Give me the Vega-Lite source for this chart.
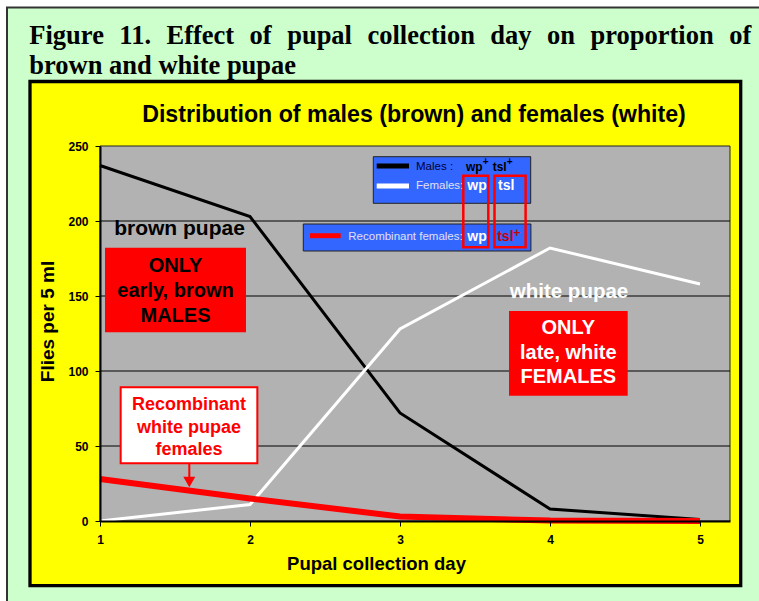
{
  "$schema": "https://vega.github.io/schema/vega-lite/v6.json",
  "width": 630,
  "height": 375,
  "autosize": "none",
  "padding": {"left": 100, "top": 146, "right": 29, "bottom": 80},
  "background": "#FFFFFF",
  "config": {"view": {"stroke": null}, "font": "Liberation Sans"},
  "layer": [
    {
      "data": {"values": [{}]},
      "mark": {"type": "rect", "fill": "#CCFFCC", "stroke": "#333333", "strokeWidth": 2},
      "encoding": {
        "x": {"datum": 0.38, "type": "quantitative", "scale": {"domain": [1, 5.2], "nice": false, "zero": false}},
        "x2": {"datum": 5.6},
        "y": {"datum": 342.33, "type": "quantitative", "scale": {"domain": [0, 250], "nice": false, "zero": false}},
        "y2": {"datum": -62.67}
      }
    },
    {
      "data": {"values": [{}]},
      "mark": {"type": "text", "text": ["Figure \u200411. \u2004Effect \u2004of \u2004pupal \u2004collection \u2004day \u2004on \u2004proportion \u2004of", "brown and white pupae"], "font": "Liberation Serif", "fontWeight": "bold", "fontSize": 26.5, "lineHeight": 30, "color": "#000000", "align": "left", "baseline": "top"},
      "encoding": {"x": {"datum": 0.5287}, "y": {"datum": 331.7}}
    },
    {
      "data": {"values": [{}]},
      "mark": {"type": "rect", "fill": "#FFFF00", "stroke": "#000000", "strokeWidth": 3.3},
      "encoding": {"x": {"datum": 0.5333}, "x2": {"datum": 5.2713}, "y": {"datum": 293}, "y2": {"datum": -43.13}}
    },
    {
      "data": {"values": [{}]},
      "mark": {"type": "rect", "fill": "#B2B2B2", "stroke": "#222222", "strokeWidth": 1},
      "encoding": {"x": {"datum": 1}, "x2": {"datum": 5.2}, "y": {"datum": 250}, "y2": {"datum": 0}}
    },
    {
      "data": {"values": [{}]},
      "mark": {"type": "text", "text": "Distribution of males (brown) and females (white)", "font": "Liberation Sans", "fontWeight": "bold", "fontSize": 23.2, "color": "#000000", "align": "center", "baseline": "middle"},
      "encoding": {"x": {"datum": 3.0933}, "y": {"datum": 270.67}}
    },
    {
      "data": {"values": [{"g": 50}, {"g": 100}, {"g": 150}, {"g": 200}]},
      "mark": {"type": "rule", "color": "#000000", "strokeWidth": 1},
      "encoding": {"x": {"datum": 1}, "x2": {"datum": 5.2}, "y": {"field": "g", "type": "quantitative"}}
    },
    {
      "data": {"values": [
        {"day": 1, "series": "Males", "flies": 237},
        {"day": 2, "series": "Males", "flies": 203},
        {"day": 3, "series": "Males", "flies": 72},
        {"day": 4, "series": "Males", "flies": 8},
        {"day": 5, "series": "Males", "flies": 1},
        {"day": 1, "series": "Females", "flies": 0},
        {"day": 2, "series": "Females", "flies": 11},
        {"day": 3, "series": "Females", "flies": 128},
        {"day": 4, "series": "Females", "flies": 182},
        {"day": 5, "series": "Females", "flies": 158},
        {"day": 1, "series": "Recombinant females", "flies": 28},
        {"day": 2, "series": "Recombinant females", "flies": 15},
        {"day": 3, "series": "Recombinant females", "flies": 3},
        {"day": 4, "series": "Recombinant females", "flies": 0.3},
        {"day": 5, "series": "Recombinant females", "flies": 0}
      ]},
      "mark": {"type": "line", "strokeJoin": "miter"},
      "encoding": {
        "x": {
          "field": "day", "type": "quantitative",
          "scale": {"domain": [1, 5.2], "nice": false, "zero": false},
          "axis": {
            "title": "Pupal collection day", "values": [1, 2, 3, 4, 5], "format": "d",
            "grid": false, "domain": true, "domainColor": "#000000", "domainWidth": 2,
            "ticks": true, "tickColor": "#000000", "tickSize": 5, "tickWidth": 1,
            "labelFont": "Liberation Sans", "labelFontWeight": "bold", "labelFontSize": 12, "labelColor": "#000000",
            "labelPadding": 8, "labelFlush": false, "labelOverlap": false,
            "titleFont": "Liberation Sans", "titleFontSize": 18.5, "titleFontWeight": "bold", "titleColor": "#000000",
            "titleX": 276, "titleY": 42, "titleAlign": "center", "titleBaseline": "middle",
            "zindex": 1
          }
        },
        "y": {
          "field": "flies", "type": "quantitative",
          "scale": {"domain": [0, 250], "nice": false, "zero": false},
          "axis": {
            "title": "Flies per 5 ml", "values": [0, 50, 100, 150, 200, 250],
            "grid": false, "domain": true, "domainColor": "#000000", "domainWidth": 2,
            "ticks": true, "tickColor": "#000000", "tickSize": 5, "tickWidth": 1,
            "labelFont": "Liberation Sans", "labelFontWeight": "bold", "labelFontSize": 12, "labelColor": "#000000",
            "labelPadding": 7, "labelFlush": false, "labelOverlap": false,
            "titleFont": "Liberation Sans", "titleFontSize": 19, "titleFontWeight": "bold", "titleColor": "#000000",
            "titleX": -53, "titleY": 175, "titleAlign": "center", "titleBaseline": "middle", "titleAngle": -90,
            "zindex": 1
          }
        },
        "color": {"field": "series", "type": "nominal", "scale": {"domain": ["Males", "Females", "Recombinant females"], "range": ["#000000", "#FFFFFF", "#FF0000"]}, "legend": null},
        "strokeWidth": {"condition": {"test": "datum.series === 'Recombinant females'", "value": 6}, "value": 3}
      }
    },
    {
      "data": {"values": [{}]},
      "mark": {"type": "text", "text": "brown pupae", "font": "Liberation Sans", "fontWeight": "bold", "fontSize": 21, "color": "#000000", "align": "center", "baseline": "middle"},
      "encoding": {"x": {"datum": 1.53}, "y": {"datum": 194.47}}
    },
    {
      "data": {"values": [{}]},
      "mark": {"type": "rect", "fill": "#FF0000"},
      "encoding": {"x": {"datum": 1.0333}, "x2": {"datum": 1.9733}, "y": {"datum": 182.2}, "y2": {"datum": 125.8}}
    },
    {
      "data": {"values": [{}]},
      "mark": {"type": "text", "text": ["ONLY", "early, brown", "MALES"], "font": "Liberation Sans", "fontWeight": "bold", "fontSize": 20, "lineHeight": 25, "color": "#000000", "align": "center", "baseline": "middle"},
      "encoding": {"x": {"datum": 1.5033}, "y": {"datum": 170.2}}
    },
    {
      "data": {"values": [{}]},
      "mark": {"type": "text", "text": "white pupae", "font": "Liberation Sans", "fontWeight": "bold", "fontSize": 20.5, "color": "#FFFFFF", "align": "center", "baseline": "middle"},
      "encoding": {"x": {"datum": 4.1267}, "y": {"datum": 152.87}}
    },
    {
      "data": {"values": [{}]},
      "mark": {"type": "rect", "fill": "#FF0000"},
      "encoding": {"x": {"datum": 3.7267}, "x2": {"datum": 4.518}, "y": {"datum": 140}, "y2": {"datum": 83.5}}
    },
    {
      "data": {"values": [{}]},
      "mark": {"type": "text", "text": ["ONLY", "late, white", "FEMALES"], "font": "Liberation Sans", "fontWeight": "bold", "fontSize": 20, "lineHeight": 24.5, "color": "#FFFFFF", "align": "center", "baseline": "middle"},
      "encoding": {"x": {"datum": 4.122}, "y": {"datum": 128.47}}
    },
    {
      "data": {"values": [{}]},
      "mark": {"type": "rect", "fill": "#FFFFFF", "stroke": "#FF0000", "strokeWidth": 2},
      "encoding": {"x": {"datum": 1.1378}, "x2": {"datum": 2.0489}, "y": {"datum": 89.13}, "y2": {"datum": 38.47}}
    },
    {
      "data": {"values": [{}]},
      "mark": {"type": "text", "text": ["Recombinant", "white pupae", "females"], "font": "Liberation Sans", "fontWeight": "bold", "fontSize": 18, "lineHeight": 22.5, "color": "#FF0000", "align": "center", "baseline": "middle"},
      "encoding": {"x": {"datum": 1.5933}, "y": {"datum": 77.33}}
    },
    {
      "data": {"values": [{}]},
      "mark": {"type": "rule", "color": "#FF0000", "strokeWidth": 2},
      "encoding": {"x": {"datum": 1.5953}, "y": {"datum": 38.47}, "y2": {"datum": 29}}
    },
    {
      "data": {"values": [{}]},
      "mark": {"type": "point", "shape": "triangle-down", "filled": true, "color": "#FF0000", "size": 144, "opacity": 1},
      "encoding": {"x": {"datum": 1.5953}, "y": {"datum": 26}}
    },
    {
      "data": {"values": [{}]},
      "mark": {"type": "rect", "fill": "#3366FF", "stroke": "#222222", "strokeWidth": 1},
      "encoding": {"x": {"datum": 2.822}, "x2": {"datum": 3.8713}, "y": {"datum": 242.87}, "y2": {"datum": 211.8}}
    },
    {
      "data": {"values": [{}]},
      "mark": {"type": "rect", "fill": "#3366FF", "stroke": "#222222", "strokeWidth": 1},
      "encoding": {"x": {"datum": 2.3553}, "x2": {"datum": 3.8727}, "y": {"datum": 198}, "y2": {"datum": 180}}
    },
    {
      "data": {"values": [{}]},
      "mark": {"type": "rule", "color": "#000000", "strokeWidth": 5},
      "encoding": {"x": {"datum": 2.8447}, "x2": {"datum": 3.06}, "y": {"datum": 236.67}}
    },
    {
      "data": {"values": [{}]},
      "mark": {"type": "rule", "color": "#FFFFFF", "strokeWidth": 5},
      "encoding": {"x": {"datum": 2.8447}, "x2": {"datum": 3.06}, "y": {"datum": 223.33}}
    },
    {
      "data": {"values": [{}]},
      "mark": {"type": "rule", "color": "#FF0000", "strokeWidth": 5},
      "encoding": {"x": {"datum": 2.4}, "x2": {"datum": 2.6047}, "y": {"datum": 190.2}}
    },
    {
      "data": {"values": [{}]},
      "mark": {"type": "text", "text": "Males :", "font": "Liberation Sans", "fontSize": 11.5, "color": "#000033", "align": "left", "baseline": "middle"},
      "encoding": {"x": {"datum": 3.1067}, "y": {"datum": 236.2}}
    },
    {
      "data": {"values": [{}]},
      "mark": {"type": "text", "text": "wp", "font": "Liberation Sans", "fontWeight": "bold", "fontSize": 12, "color": "#000000", "align": "left", "baseline": "middle"},
      "encoding": {"x": {"datum": 3.44}, "y": {"datum": 236.2}}
    },
    {
      "data": {"values": [{}]},
      "mark": {"type": "text", "text": "+", "font": "Liberation Sans", "fontWeight": "bold", "fontSize": 10, "color": "#000000", "align": "left", "baseline": "middle"},
      "encoding": {"x": {"datum": 3.5513}, "y": {"datum": 239.3}}
    },
    {
      "data": {"values": [{}]},
      "mark": {"type": "text", "text": "tsl", "font": "Liberation Sans", "fontWeight": "bold", "fontSize": 12, "color": "#000000", "align": "left", "baseline": "middle"},
      "encoding": {"x": {"datum": 3.618}, "y": {"datum": 236.2}}
    },
    {
      "data": {"values": [{}]},
      "mark": {"type": "text", "text": "+", "font": "Liberation Sans", "fontWeight": "bold", "fontSize": 10, "color": "#000000", "align": "left", "baseline": "middle"},
      "encoding": {"x": {"datum": 3.7113}, "y": {"datum": 239.3}}
    },
    {
      "data": {"values": [{}]},
      "mark": {"type": "text", "text": "Females:", "font": "Liberation Sans", "fontSize": 11.5, "color": "#E0E0F0", "align": "left", "baseline": "middle"},
      "encoding": {"x": {"datum": 3.1067}, "y": {"datum": 223.33}}
    },
    {
      "data": {"values": [{}]},
      "mark": {"type": "text", "text": "wp", "font": "Liberation Sans", "fontWeight": "bold", "fontSize": 14, "color": "#FFFFFF", "align": "left", "baseline": "middle"},
      "encoding": {"x": {"datum": 3.4487}, "y": {"datum": 223.33}}
    },
    {
      "data": {"values": [{}]},
      "mark": {"type": "text", "text": "tsl", "font": "Liberation Sans", "fontWeight": "bold", "fontSize": 14, "color": "#FFFFFF", "align": "left", "baseline": "middle"},
      "encoding": {"x": {"datum": 3.6533}, "y": {"datum": 223.33}}
    },
    {
      "data": {"values": [{}]},
      "mark": {"type": "text", "text": "Recombinant females:", "font": "Liberation Sans", "fontSize": 11.5, "color": "#E0E0F0", "align": "left", "baseline": "middle"},
      "encoding": {"x": {"datum": 2.6553}, "y": {"datum": 189.13}}
    },
    {
      "data": {"values": [{}]},
      "mark": {"type": "text", "text": "wp", "font": "Liberation Sans", "fontWeight": "bold", "fontSize": 14, "color": "#FFFFFF", "align": "left", "baseline": "middle"},
      "encoding": {"x": {"datum": 3.4487}, "y": {"datum": 189.13}}
    },
    {
      "data": {"values": [{}]},
      "mark": {"type": "text", "text": "tsl", "font": "Liberation Sans", "fontWeight": "bold", "fontSize": 14, "color": "#CC0000", "align": "left", "baseline": "middle"},
      "encoding": {"x": {"datum": 3.648}, "y": {"datum": 189.13}}
    },
    {
      "data": {"values": [{}]},
      "mark": {"type": "text", "text": "+", "font": "Liberation Sans", "fontWeight": "bold", "fontSize": 12, "color": "#CC0000", "align": "left", "baseline": "middle"},
      "encoding": {"x": {"datum": 3.757}, "y": {"datum": 191.8}}
    },
    {
      "data": {"values": [{}]},
      "mark": {"type": "rect", "filled": false, "stroke": "#FF0000", "strokeWidth": 2.5},
      "encoding": {"x": {"datum": 3.422}, "x2": {"datum": 3.5887}, "y": {"datum": 230.2}, "y2": {"datum": 182.47}}
    },
    {
      "data": {"values": [{}]},
      "mark": {"type": "rect", "filled": false, "stroke": "#FF0000", "strokeWidth": 2.5},
      "encoding": {"x": {"datum": 3.63}, "x2": {"datum": 3.8373}, "y": {"datum": 230.2}, "y2": {"datum": 182.47}}
    }
  ]
}
